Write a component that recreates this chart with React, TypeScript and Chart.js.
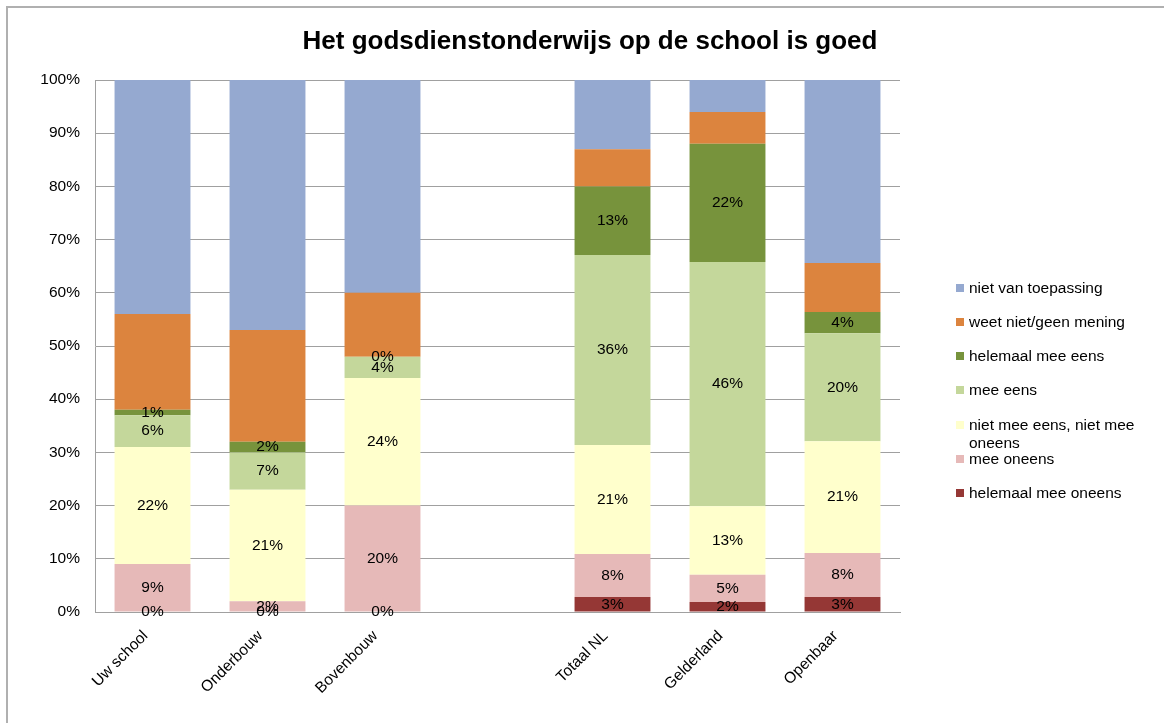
import React, { useEffect, useRef } from "react";
import { Chart, registerables } from "chart.js";

Chart.register(...registerables);

const TITLE = "Het godsdienstonderwijs op de school is goed";
const categories = ["Uw school", "Onderbouw", "Bovenbouw", "", "Totaal NL", "Gelderland", "Openbaar"];

// Bottom to top of each stack (percentages)
const helemaalMeeOneens = [0, 0, 0, null, 2.8, 1.9, 2.8];
const meeOneens = [9, 2, 20, null, 8.1, 5.1, 8.3];
const nietMeeEensNietMeeOneens = [22, 21, 24, null, 20.5, 12.9, 21];
const meeEens = [6, 7, 4, null, 35.7, 45.9, 20.3];
const helemaalMeeEens = [1, 2, 0, null, 12.9, 22.2, 4];
const weetNietGeenMening = [18, 21, 12, null, 7, 6, 9.2];
const nietVanToepassing = [44, 47, 40, null, 13, 6, 34.4];

const yTicks = [0, 10, 20, 30, 40, 50, 60, 70, 80, 90, 100];

const series = [
  { label: "helemaal mee oneens", data: helemaalMeeOneens, color: "#953735", showValues: true },
  { label: "mee oneens", data: meeOneens, color: "#E6B9B8", showValues: true },
  { label: "niet mee eens, niet mee oneens", data: nietMeeEensNietMeeOneens, color: "#FFFFCC", showValues: true },
  { label: "mee eens", data: meeEens, color: "#C4D79B", showValues: true },
  { label: "helemaal mee eens", data: helemaalMeeEens, color: "#77933C", showValues: true },
  { label: "weet niet/geen mening", data: weetNietGeenMening, color: "#DC843E", showValues: false },
  { label: "niet van toepassing", data: nietVanToepassing, color: "#95A9D0", showValues: false },
];

const legendLines: Record<string, string[]> = {
  "niet mee eens, niet mee oneens": ["niet mee eens, niet mee", "oneens"],
};

const FONT = "'Liberation Sans', Arial, sans-serif";

const valueLabels = {
  id: "valueLabels",
  afterDatasetsDraw(chart: any) {
    const ctx = chart.ctx;
    ctx.save();
    ctx.font = `15.5px ${FONT}`;
    ctx.fillStyle = "#000";
    ctx.textAlign = "center";
    ctx.textBaseline = "middle";
    chart.data.datasets.forEach((ds: any, di: number) => {
      if (!ds.showValues) return;
      const meta = chart.getDatasetMeta(di);
      meta.data.forEach((el: any, i: number) => {
        const v = ds.data[i];
        if (v == null) return;
        const y = (el.y + el.base) / 2;
        ctx.fillText(`${Math.round(v)}%`, el.x, y);
      });
    });
    ctx.restore();
  },
};

export default function App() {
  const ref = useRef<HTMLCanvasElement | null>(null);

  useEffect(() => {
    document.body.style.margin = "0";
    const chart = new Chart(ref.current!, {
      type: "bar",
      data: {
        labels: categories,
        datasets: series.map((s) => ({
          label: s.label,
          data: s.data,
          backgroundColor: s.color,
          borderWidth: 0,
          barPercentage: 0.66,
          categoryPercentage: 1,
          showValues: s.showValues,
        })) as any,
      },
      options: {
        animation: false,
        responsive: false,
        maintainAspectRatio: false,
        layout: { padding: { left: 0, right: 264, top: 80, bottom: 0 } },
        plugins: {
          legend: { display: false },
          tooltip: { enabled: false },
          title: { display: false },
        },
        scales: {
          x: {
            stacked: true,
            grid: { display: false, drawTicks: false },
            border: { display: true, color: "#A0A0A0", width: 1 },
            ticks: {
              color: "#000",
              font: { family: FONT, size: 15.5 },
              minRotation: 45,
              maxRotation: 45,
              autoSkip: false,
              padding: 15,
              labelOffset: -7,
            },
            afterFit(scale: any) {
              scale.height = 111;
            },
          },
          y: {
            stacked: true,
            min: 0,
            max: 100,
            afterBuildTicks(scale: any) {
              scale.ticks = yTicks.map((v) => ({ value: v }));
            },
            grid: { color: "#A0A0A0", drawTicks: false },
            border: { display: true, color: "#A0A0A0", width: 1 },
            ticks: {
              color: "#000",
              font: { family: FONT, size: 15.5 },
              padding: 15,
              callback: (v: any) => `${v}%`,
            },
            afterFit(scale: any) {
              scale.width = 95;
            },
          },
        },
      },
      plugins: [valueLabels],
    });
    return () => chart.destroy();
  }, []);

  const legendItems = [...series].reverse();
  const rowY = [288, 322, 356, 390, 425, 459, 493];

  return (
    <div style={{ position: "relative", width: 1164, height: 723, overflow: "hidden", background: "#fff" }}>
      <div
        style={{
          position: "absolute",
          left: 6,
          top: 6,
          width: 1200,
          height: 800,
          borderTop: "2px solid #B0B0B0",
          borderLeft: "2px solid #B0B0B0",
        }}
      />
      <canvas ref={ref} width={1164} height={723} style={{ position: "absolute", left: 0, top: 0 }} />
      <div
        style={{
          position: "absolute",
          left: 0,
          width: 1180,
          top: 24,
          textAlign: "center",
          fontFamily: FONT,
          fontWeight: "bold",
          fontSize: 26,
          lineHeight: "32px",
          color: "#000",
          whiteSpace: "nowrap",
        }}
      >
        {TITLE}
      </div>
      {legendItems.map((s, i) => {
        const lines = legendLines[s.label] || [s.label];
        return (
          <div
            key={s.label}
            style={{
              position: "absolute",
              left: 956,
              top: rowY[i] - 9,
              fontFamily: FONT,
              fontSize: 15.5,
              lineHeight: "18px",
              color: "#000",
              whiteSpace: "nowrap",
            }}
          >
            <span
              style={{
                position: "absolute",
                left: 0,
                top: 5,
                width: 8,
                height: 8,
                background: s.color,
              }}
            />
            <div style={{ marginLeft: 13 }}>
              {lines.map((l) => (
                <div key={l}>{l}</div>
              ))}
            </div>
          </div>
        );
      })}
    </div>
  );
}
